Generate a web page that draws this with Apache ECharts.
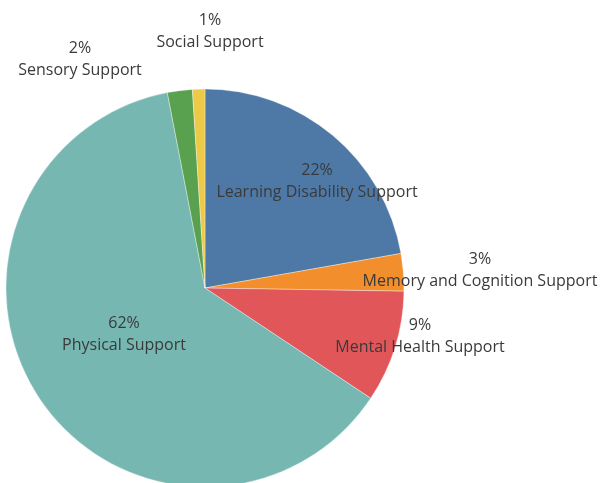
<!DOCTYPE html>
<html>
<head>
<meta charset="utf-8">
<script src="https://cdn.jsdelivr.net/npm/echarts@6/dist/echarts.min.js"></script>
<style>
  html, body { margin: 0; padding: 0; background: #fff; }
  #chart { width: 601px; height: 483px; }
</style>
</head>
<body>
<div id="chart"></div>
<script>
// Share of support type (percent)
const categories = [
  'Learning Disability Support',
  'Memory and Cognition Support',
  'Mental Health Support',
  'Physical Support',
  'Sensory Support',
  'Social Support'
];
const shares = [22, 3, 9, 62, 2, 1];
const colors = ['#4e79a7', '#f28e2b', '#e15759', '#76b7b2', '#59a14f', '#edc948'];

// Label anchor (top-centre of the two-line label) for each slice
const labelAnchors = {
  'Learning Disability Support': [317, 159],
  'Memory and Cognition Support': [480, 248],
  'Mental Health Support': [420, 314],
  'Physical Support': [124, 312],
  'Sensory Support': [80, 37],
  'Social Support': [210, 9]
};

const chart = echarts.init(document.getElementById('chart'), null, { renderer: 'canvas' });

const textStyle = { fontFamily: 'Open Sans', fontSize: 16, color: '#3a3a3a', lineHeight: 22, align: 'center' };

chart.setOption({
  animation: false,
  backgroundColor: '#ffffff',
  series: [{
    type: 'pie',
    center: [205, 288],
    radius: 199,
    startAngle: 90,
    clockwise: true,
    avoidLabelOverlap: false,
    itemStyle: { borderColor: 'rgba(255,255,255,0.6)', borderWidth: 0.6 },
    label: {
      show: true,
      position: 'inside',
      formatter: p => '{v|' + p.value + '%}\n{n|' + p.name + '}',
      rich: { v: textStyle, n: textStyle }
    },
    labelLine: { show: false },
    labelLayout: params => {
      const a = labelAnchors[categories[params.dataIndex]];
      return { x: a[0], y: a[1], align: 'center', verticalAlign: 'top' };
    },
    emphasis: { disabled: true },
    data: categories.map((name, i) => ({
      name: name,
      value: shares[i],
      itemStyle: { color: colors[i] }
    }))
  }]
});
</script>
</body>
</html>
